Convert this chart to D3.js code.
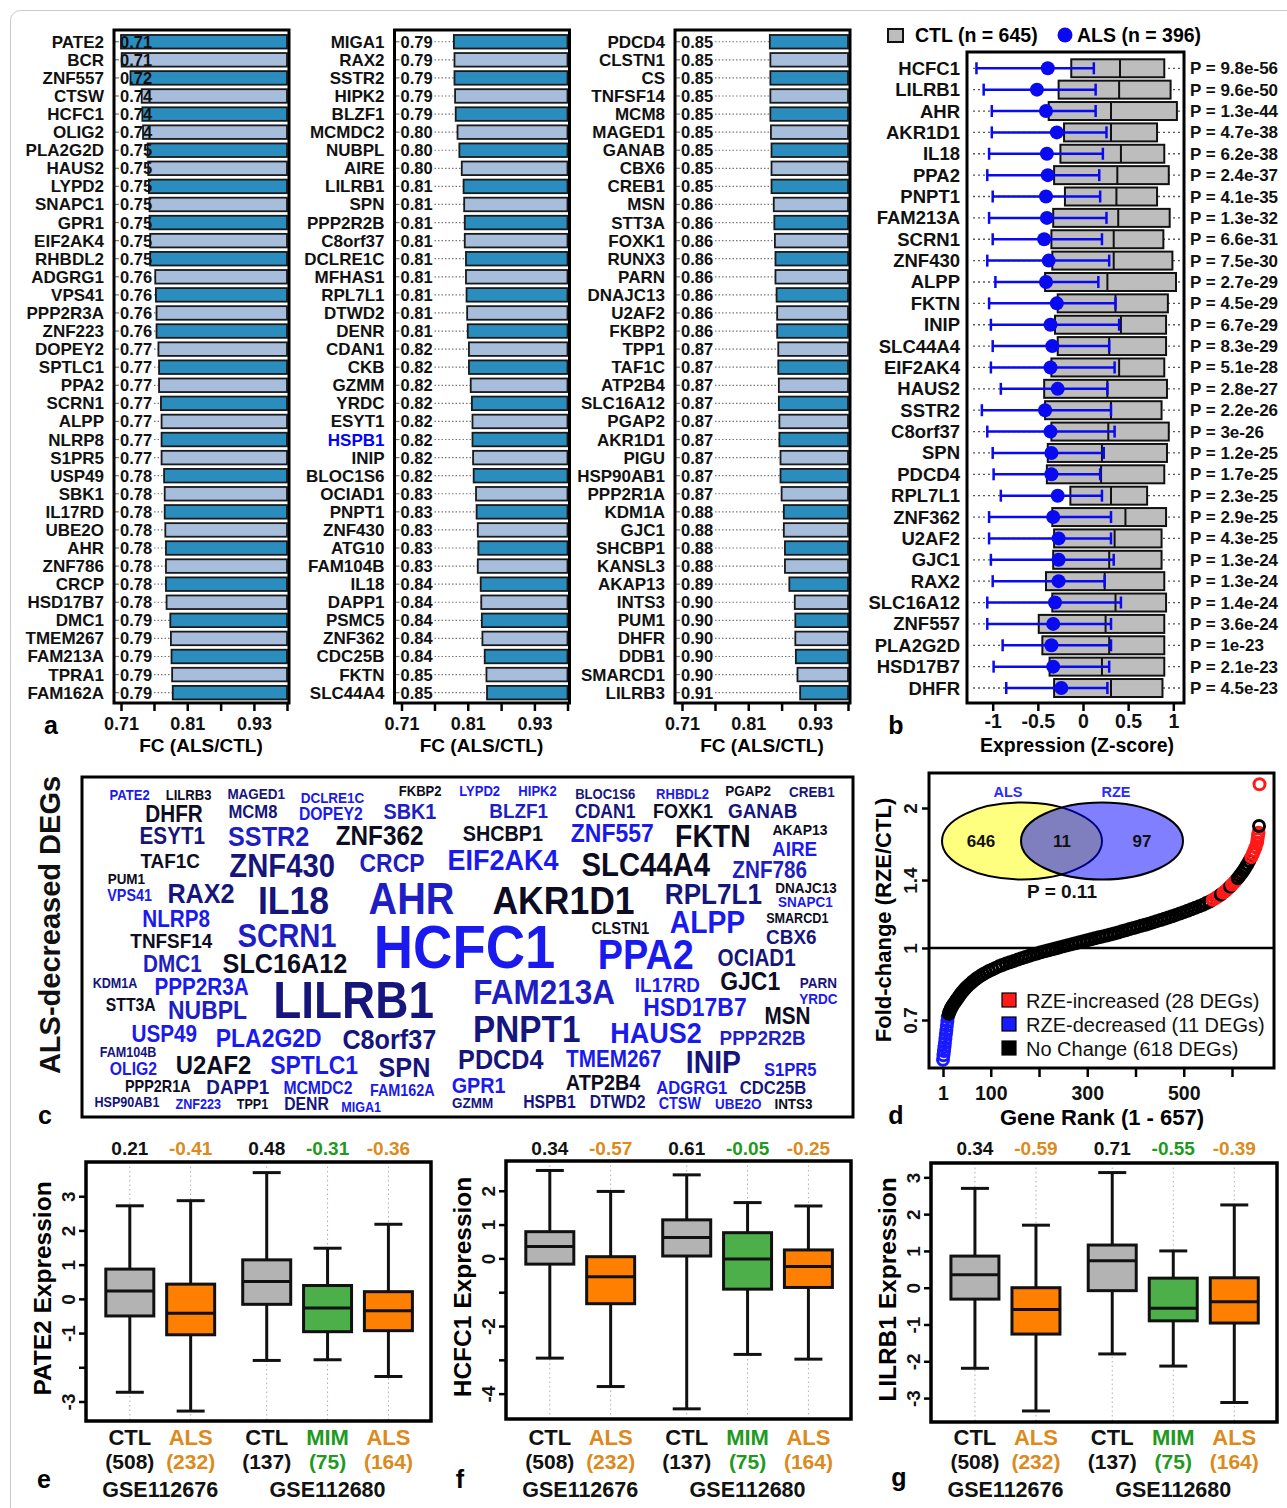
<!DOCTYPE html>
<html lang="en">
  <head>
    <meta charset="utf-8">
    <title>ALS-decreased DEGs</title>
    <script type="text/javascript" src="https://d3js.org/d3.v7.min.js"></script>
    <style type="text/css">
      body { margin: 0; background: #ffffff; }
      svg text { font-family: "Liberation Sans", Arial, Helvetica, sans-serif; font-weight: bold; }
    </style>
  </head>
  <body>
    <script type="text/javascript">

      var w = 1287;
      var h = 1508;

      // ---- panel a : fold change ALS/CTL, 111 genes in three columns of 37
      var geneA = ["PATE2","BCR","ZNF557","CTSW","HCFC1","OLIG2","PLA2G2D","HAUS2","LYPD2","SNAPC1","GPR1","EIF2AK4","RHBDL2","ADGRG1","VPS41","PPP2R3A","ZNF223","DOPEY2","SPTLC1","PPA2","SCRN1","ALPP","NLRP8","S1PR5","USP49","SBK1","IL17RD","UBE2O","AHR","ZNF786","CRCP","HSD17B7","DMC1","TMEM267","FAM213A","TPRA1","FAM162A",
        "MIGA1","RAX2","SSTR2","HIPK2","BLZF1","MCMDC2","NUBPL","AIRE","LILRB1","SPN","PPP2R2B","C8orf37","DCLRE1C","MFHAS1","RPL7L1","DTWD2","DENR","CDAN1","CKB","GZMM","YRDC","ESYT1","HSPB1","INIP","BLOC1S6","OCIAD1","PNPT1","ZNF430","ATG10","FAM104B","IL18","DAPP1","PSMC5","ZNF362","CDC25B","FKTN","SLC44A4",
        "PDCD4","CLSTN1","CS","TNFSF14","MCM8","MAGED1","GANAB","CBX6","CREB1","MSN","STT3A","FOXK1","RUNX3","PARN","DNAJC13","U2AF2","FKBP2","TPP1","TAF1C","ATP2B4","SLC16A12","PGAP2","AKR1D1","PIGU","HSP90AB1","PPP2R1A","KDM1A","GJC1","SHCBP1","KANSL3","AKAP13","INTS3","PUM1","DHFR","DDB1","SMARCD1","LILRB3"];
      var fcA = [0.710,0.711,0.724,0.741,0.742,0.743,0.750,0.751,0.752,0.753,0.753,0.754,0.754,0.762,0.763,0.764,0.764,0.767,0.768,0.768,0.771,0.772,0.772,0.772,0.776,0.777,0.777,0.778,0.779,0.779,0.779,0.780,0.786,0.787,0.788,0.789,0.790,
        0.791,0.792,0.792,0.793,0.794,0.797,0.800,0.804,0.807,0.808,0.809,0.809,0.811,0.811,0.812,0.813,0.814,0.816,0.816,0.819,0.821,0.822,0.822,0.823,0.824,0.828,0.829,0.831,0.832,0.831,0.836,0.837,0.838,0.839,0.843,0.846,0.847,
        0.851,0.852,0.852,0.852,0.852,0.853,0.854,0.854,0.854,0.858,0.859,0.860,0.861,0.861,0.863,0.864,0.864,0.866,0.866,0.867,0.867,0.868,0.868,0.870,0.870,0.872,0.876,0.876,0.878,0.878,0.886,0.896,0.897,0.897,0.898,0.901,0.906];
      var highlightA = ["HSPB1"];
      var tickA = [0.71, 0.76, 0.814, 0.872, 0.934, 1];
      var tickLabelA = ["0.71", "", "0.81", "", "0.93", ""];

      // ---- panel b : CTL quartiles and ALS summary (Z-score)
      var geneB = ["HCFC1","LILRB1","AHR","AKR1D1","IL18","PPA2","PNPT1","FAM213A","SCRN1","ZNF430","ALPP","FKTN","INIP","SLC44A4","EIF2AK4","HAUS2","SSTR2","C8orf37","SPN","PDCD4","RPL7L1","ZNF362","U2AF2","GJC1","RAX2","SLC16A12","ZNF557","PLA2G2D","HSD17B7","DHFR"];
      var ctlQ1 = [-0.13,-0.27,-0.38,-0.21,-0.25,-0.32,-0.20,-0.33,-0.35,-0.34,-0.42,-0.28,-0.31,-0.28,-0.35,-0.43,-0.42,-0.35,-0.39,-0.40,-0.14,-0.34,-0.32,-0.33,-0.41,-0.34,-0.49,-0.45,-0.37,-0.32];
      var ctlMed = [0.41,0.40,0.31,0.31,0.42,0.38,0.37,0.39,0.34,0.34,0.27,0.36,0.42,0.29,0.40,0.27,0.31,0.28,0.21,0.20,0.31,0.47,0.35,0.29,0.24,0.36,0.25,0.29,0.21,0.31];
      var ctlQ3 = [0.90,0.97,1.04,0.82,0.90,0.95,0.82,0.96,0.89,0.99,1.03,0.94,0.92,0.92,0.90,0.93,0.87,0.95,0.93,0.90,0.71,0.92,0.87,0.87,0.90,0.92,0.90,0.90,0.90,0.88];
      var alsMid = [-0.39,-0.51,-0.41,-0.29,-0.40,-0.39,-0.41,-0.40,-0.43,-0.38,-0.41,-0.29,-0.36,-0.34,-0.36,-0.28,-0.42,-0.36,-0.35,-0.35,-0.28,-0.33,-0.27,-0.27,-0.27,-0.31,-0.33,-0.35,-0.33,-0.24];
      var alsLo = [-1.18,-1.10,-1.01,-1.01,-1.04,-1.06,-1.00,-1.04,-1.00,-1.06,-0.97,-1.04,-1.02,-1.00,-1.02,-0.91,-1.12,-1.06,-1.00,-0.99,-0.91,-1.04,-1.04,-1.02,-1.00,-1.06,-1.06,-0.89,-0.99,-0.85];
      var alsHi = [0.12,0.14,0.14,0.26,0.22,0.18,0.19,0.26,0.21,0.29,0.17,0.36,0.40,0.29,0.35,0.27,0.31,0.35,0.23,0.19,0.21,0.31,0.31,0.34,0.24,0.42,0.31,0.31,0.29,0.27];
      var pB = [9.8e-56,9.6e-50,1.3e-44,4.7e-38,6.2e-38,2.4e-37,4.1e-35,1.3e-32,6.6e-31,7.5e-30,2.7e-29,4.5e-29,6.7e-29,8.3e-29,5.1e-28,2.8e-27,2.2e-26,3e-26,1.2e-25,1.7e-25,2.3e-25,2.9e-25,4.3e-25,1.3e-24,1.3e-24,1.4e-24,3.6e-24,1e-23,2.1e-23,4.5e-23];
      var tickB = [-1, -0.5, 0, 0.5, 1];
      var tickLabelB = ["-1", "-0.5", "0", "0.5", "1"];

      // ---- panel c : word cloud (weight ~ significance, shade 0 = black .. 3 = bright blue)
      var cloudWords = ["PATE2","LILRB3","MAGED1","DCLRE1C","FKBP2","LYPD2","HIPK2","BLOC1S6","RHBDL2","PGAP2","CREB1",
        "DHFR","MCM8","DOPEY2","SBK1","BLZF1","CDAN1","FOXK1","GANAB",
        "ESYT1","SSTR2","ZNF362","SHCBP1","ZNF557","FKTN","AKAP13","AIRE",
        "TAF1C","ZNF430","CRCP","EIF2AK4","SLC44A4","ZNF786",
        "PUM1","VPS41","RAX2","IL18","AHR","AKR1D1","RPL7L1","DNAJC13","SNAPC1",
        "NLRP8","TNFSF14","SCRN1","HCFC1","CLSTN1","ALPP","SMARCD1","CBX6",
        "DMC1","SLC16A12","PPA2","OCIAD1",
        "KDM1A","PPP2R3A","LILRB1","FAM213A","IL17RD","GJC1","PARN","YRDC",
        "STT3A","NUBPL","HSD17B7","MSN",
        "USP49","PLA2G2D","C8orf37","PNPT1","HAUS2","PPP2R2B",
        "FAM104B","OLIG2","U2AF2","SPTLC1","SPN","PDCD4","TMEM267","INIP","S1PR5",
        "PPP2R1A","DAPP1","MCMDC2","FAM162A","GPR1","ATP2B4","ADGRG1","CDC25B",
        "HSP90AB1","ZNF223","TPP1","DENR","MIGA1","GZMM","HSPB1","DTWD2","CTSW","UBE2O","INTS3"];
      var cloudWeight = [14.5,14.5,15,15,14.5,14.5,14.5,14.5,14.5,15,15,
        23,18.5,17.5,22,21,19.5,20,21,
        23,28,27,22,25.5,31.5,15.5,21,
        21,32.5,25.5,30,32.5,23,
        15,16,28,39.5,44,39.5,29,15,15,
        23,21,32.5,60.5,16.5,31.5,14,21,
        23,28,42,23,
        14,23,51,35,21,25.5,15,15,
        17.5,25.5,25.5,23,
        23,25.5,28,37,30,21,
        14,17.5,26.5,25.5,28,28,23,31.5,18.5,
        16,21,17.5,16,22,22,18.5,18.5,
        14,14,14,17.5,14,15,17.5,17.5,16,15,15];
      var cloudShade = [3,0,1,3,0,3,3,1,3,0,1,
        0,1,3,2,2,1,0,1,
        1,2,0,0,3,0,0,3,
        0,1,2,3,0,2,
        0,3,1,1,2,0,1,0,3,
        3,0,2,3,0,3,0,1,
        2,0,3,1,
        1,3,1,2,3,0,1,3,
        0,2,3,0,
        3,3,1,1,3,2,
        1,3,0,3,1,1,3,1,3,
        0,1,3,3,3,0,3,1,
        1,3,0,1,3,1,1,1,3,3,0];
      // layout of the cloud (word centres, in cloud units)
      var cloudPosX = [218,327,452,593,755,865,972,1097,1240,1361,1479,
        300,446,590,736,937,1097,1241,1388,
        297,475,680,908,1110,1296,1457,1447,
        293,500,703,908,1172,1401,
        212,218,350,521,739,1020,1297,1468,1467,
        304,295,509,837,1125,1286,1452,1441,
        297,505,1172,1377,
        191,351,632,984,1212,1365,1491,1491,
        220,362,1263,1434,
        282,475,698,952,1191,1388,
        215,225,373,559,726,904,1113,1297,1439,
        270,418,566,722,863,1093,1257,1407,
        213,345,445,545,646,852,994,1120,1235,1343,1445];
      var cloudPosY = [88,88,87,97,78,78,78,86,86,78,80,
        145,140,145,138,137,137,137,136,
        213,212,210,205,203,212,193,250,
        285,300,292,283,298,313,
        342,390,385,405,400,405,385,367,410,
        460,525,510,545,490,470,460,513,
        595,595,568,578,
        655,665,705,680,657,648,653,700,
        720,733,725,752,
        805,818,822,790,800,818,
        862,912,897,900,905,883,882,890,912,
        963,965,968,975,960,952,968,968,
        1010,1017,1017,1015,1025,1013,1010,1010,1015,1015,1015];

      // ---- panel d : sorted fold change RZE/CTL of the 657 ALS genes
      var rankD = [1,2,3,4,5,6,7,8,9,10,11,13,15,17,19,21,24,27,30,33,36,40,44,48,52,57,62,67,72,78,84,90,96,103,110,117,124,132,140,148,156,164,172,180,188,196,204,212,220,228,236,244,252,260,268,276,284,292,300,308,316,324,332,340,348,356,364,372,380,388,396,404,412,420,428,436,444,452,460,468,476,484,492,500,508,516,524,532,540,547,554,560,566,572,577,582,587,592,596,600,604,608,612,616,620,624,628,632,636,640,643,646,649,652,653,654,655,656,657];
      var fcD = [0.575,0.588,0.600,0.612,0.625,0.638,0.652,0.665,0.680,0.695,0.710,0.722,0.731,0.739,0.746,0.752,0.760,0.768,0.776,0.784,0.792,0.802,0.811,0.820,0.828,0.837,0.846,0.854,0.862,0.870,0.878,0.885,0.892,0.899,0.906,0.913,0.919,0.926,0.932,0.938,0.944,0.950,0.956,0.962,0.968,0.973,0.979,0.984,0.989,0.994,0.999,1.004,1.009,1.014,1.019,1.024,1.029,1.034,1.039,1.044,1.049,1.054,1.059,1.064,1.069,1.074,1.080,1.086,1.092,1.098,1.104,1.110,1.116,1.122,1.128,1.135,1.142,1.149,1.156,1.163,1.170,1.178,1.186,1.194,1.202,1.211,1.220,1.229,1.239,1.249,1.259,1.269,1.280,1.292,1.303,1.315,1.328,1.342,1.355,1.368,1.382,1.397,1.413,1.430,1.448,1.468,1.490,1.514,1.540,1.568,1.592,1.618,1.648,1.685,1.715,1.745,1.770,1.830,2.250];
      var decRanks = [1,2,3,4,5,6,7,8,9,10,11];
      var incRanks = [560,566,572,582,587,592,600,604,608,640,643,646,649,652,653,654,655,657];
      var legendD = ["RZE-increased (28 DEGs)", "RZE-decreased (11 DEGs)", "No Change (618 DEGs)"];
      var vennSets = ["ALS", "RZE"];
      var vennCounts = [646, 11, 97];
      var vennP = "P = 0.11";
      var tickDx = [1, 100, 200, 300, 400, 500, 600];
      var tickLabelDx = ["1", "100", "", "300", "", "500", ""];
      var tickDy = [0.7, 1, 1.4, 2];
      var tickLabelDy = ["0.7", "1", "1.4", "2"];

      // ---- panels e-g : expression box plots (whisker low, q1, median, q3, whisker high)
      var groups = ["CTL", "ALS", "CTL", "MIM", "ALS"];
      var groupN = [508, 232, 137, 75, 164];
      var datasets = ["GSE112676", "GSE112680"];
      var boxE = [[-2.73,-0.50,0.23,0.87,2.72],[-3.28,-1.05,-0.42,0.43,2.87],[-1.80,-0.16,0.51,1.14,3.69],[-1.78,-0.96,-0.27,0.39,1.48],[-2.27,-0.93,-0.35,0.21,2.18]];
      var meanE = [0.21,-0.41,0.48,-0.31,-0.36];
      var boxF = [[-2.95,-0.17,0.35,0.79,2.60],[-3.79,-1.34,-0.54,0.05,1.98],[-4.45,0.07,0.62,1.14,2.47],[-2.84,-0.91,-0.02,0.76,1.65],[-2.98,-0.86,-0.24,0.25,1.55]];
      var meanF = [0.34,-0.57,0.61,-0.05,-0.25];
      var boxG = [[-2.19,-0.31,0.35,0.86,2.70],[-3.35,-1.26,-0.59,0.00,1.70],[-1.80,-0.08,0.73,1.16,3.13],[-2.13,-0.90,-0.56,0.26,1.00],[-3.12,-0.96,-0.38,0.27,2.25]];
      var meanG = [0.34,-0.59,0.71,-0.55,-0.39];

      var svg = d3.select("body")
                  .append("svg")
                  .attr("width", w)
                  .attr("height", h);

      svg.append("rect")
         .attr("x", 10.5).attr("y", 10.5)
         .attr("width", w).attr("height", h)
         .attr("rx", 10)
         .attr("fill", "none")
         .attr("stroke", "#c8c8c8");

      function letter(t, x, y) {
        svg.append("text").attr("x", x).attr("y", y)
           .attr("text-anchor", "middle").attr("font-size", 25)
           .text(t);
      }

      // ================= panel a
      var aTop = 30, aBottom = 703;
      var aCols = [121, 401.5, 682];
      aCols.forEach(function(x0, c) {
        var genes = geneA.slice(c * 37, c * 37 + 37);
        var fcs = fcA.slice(c * 37, c * 37 + 37);
        var rows = genes.map(function(g, i) { return {gene: g, fc: fcs[i], i: i}; });
        var x = d3.scaleLog().domain([0.71, 1]).range([x0, x0 + 166]);
        var y = d3.scaleBand().domain(genes).range([32.7, 701.7]).paddingInner(0.25).paddingOuter(0.125);
        var g = svg.append("g");

        g.selectAll(".lead").data(rows).enter().append("line")
         .attr("x1", x0 + 33)
         .attr("x2", function(d) { return Math.max(x0 + 33, x(d.fc)); })
         .attr("y1", function(d) { return y(d.gene) + y.bandwidth() / 2; })
         .attr("y2", function(d) { return y(d.gene) + y.bandwidth() / 2; })
         .attr("stroke", "#777").attr("stroke-width", 1.2).attr("stroke-dasharray", "1.5,2");
        g.selectAll(".lead0").data(rows).enter().append("line")
         .attr("x1", x0 - 6).attr("x2", x0 - 2)
         .attr("y1", function(d) { return y(d.gene) + y.bandwidth() / 2; })
         .attr("y2", function(d) { return y(d.gene) + y.bandwidth() / 2; })
         .attr("stroke", "#777").attr("stroke-width", 1.2);

        g.selectAll(".bar").data(rows).enter().append("rect")
         .attr("x", function(d) { return x(d.fc); })
         .attr("width", function(d) { return x(1) - x(d.fc); })
         .attr("y", function(d) { return y(d.gene); })
         .attr("height", y.bandwidth())
         .attr("fill", function(d) { return d.i % 2 ? "#a6bddb" : "#2b8cbe"; })
         .attr("stroke", "#1a1a1a").attr("stroke-width", 1.8);

        g.selectAll(".val").data(rows).enter().append("text")
         .attr("x", x0 - 1)
         .attr("y", function(d) { return y(d.gene) + y.bandwidth() / 2 + 6; })
         .attr("font-size", 16.5).attr("fill", "#111")
         .text(function(d) { return d.fc.toFixed(2); });

        g.selectAll(".gene").data(rows).enter().append("text")
         .attr("x", x0 - 17)
         .attr("y", function(d) { return y(d.gene) + y.bandwidth() / 2 + 6; })
         .attr("text-anchor", "end").attr("font-size", 17)
         .attr("fill", function(d) { return highlightA.indexOf(d.gene) >= 0 ? "#0000ff" : "#111"; })
         .text(function(d) { return d.gene; });

        g.append("rect")
         .attr("x", x0 - 7).attr("y", aTop)
         .attr("width", 175).attr("height", aBottom - aTop)
         .attr("fill", "none").attr("stroke", "#000").attr("stroke-width", 3);

        var ax = g.append("g")
                  .attr("transform", "translate(0," + aBottom + ")")
                  .call(d3.axisBottom(x).tickValues(tickA)
                          .tickFormat(function(d, i) { return tickLabelA[i]; })
                          .tickSize(8).tickPadding(6))
                  .attr("font-size", 18);
        ax.select(".domain").remove();
        ax.selectAll("line").attr("stroke-width", 2.5);
        ax.selectAll("text").attr("fill", "#111");

        g.append("text")
         .attr("x", x0 + 80).attr("y", 752)
         .attr("text-anchor", "middle").attr("font-size", 19)
         .text("FC (ALS/CTL)");
      });
      letter("a", 51, 734);

      // ================= panel b
      var bLeft = 967, bRight = 1184, bTop = 52, bBottom = 703;
      var bx = d3.scaleLinear().domain([-1, 1]).range([992.7, 1173.3]);
      var by = d3.scaleBand().domain(geneB).range([57.6, 57.6 + 30 * 21.37]);
      var rowsB = geneB.map(function(g, i) {
        return {gene: g, q1: ctlQ1[i], med: ctlMed[i], q3: ctlQ3[i], mid: alsMid[i], lo: alsLo[i], hi: alsHi[i], p: pB[i]};
      });
      var cy = function(d) { return by(d.gene) + by.bandwidth() / 2; };
      var gb = svg.append("g");

      gb.selectAll(".dots").data(rowsB).enter().append("line")
        .attr("x1", bLeft + 6).attr("x2", bRight - 3)
        .attr("y1", cy).attr("y2", cy)
        .attr("stroke", "#555").attr("stroke-width", 1.3).attr("stroke-dasharray", "2,3");
      gb.selectAll(".ctl").data(rowsB).enter().append("rect")
        .attr("x", function(d) { return bx(d.q1); })
        .attr("width", function(d) { return bx(d.q3) - bx(d.q1); })
        .attr("y", function(d) { return cy(d) - 9; })
        .attr("height", 18)
        .attr("fill", "#bdbdbd").attr("stroke", "#111").attr("stroke-width", 2);
      gb.selectAll(".med").data(rowsB).enter().append("line")
        .attr("x1", function(d) { return bx(d.med); }).attr("x2", function(d) { return bx(d.med); })
        .attr("y1", function(d) { return cy(d) - 9; }).attr("y2", function(d) { return cy(d) + 9; })
        .attr("stroke", "#111").attr("stroke-width", 2);
      gb.selectAll(".err").data(rowsB).enter().append("line")
        .attr("x1", function(d) { return bx(d.lo); }).attr("x2", function(d) { return bx(d.hi); })
        .attr("y1", cy).attr("y2", cy)
        .attr("stroke", "#0a0af0").attr("stroke-width", 2.5);
      ["lo", "hi"].forEach(function(k) {
        gb.selectAll(".cap" + k).data(rowsB).enter().append("line")
          .attr("x1", function(d) { return bx(d[k]); }).attr("x2", function(d) { return bx(d[k]); })
          .attr("y1", function(d) { return cy(d) - 6; }).attr("y2", function(d) { return cy(d) + 6; })
          .attr("stroke", "#0a0af0").attr("stroke-width", 2.5);
      });
      gb.selectAll(".als").data(rowsB).enter().append("circle")
        .attr("cx", function(d) { return bx(d.mid); }).attr("cy", cy).attr("r", 7)
        .attr("fill", "#0a0af0");
      gb.selectAll(".gene").data(rowsB).enter().append("text")
        .attr("x", 960).attr("y", function(d) { return cy(d) + 6.5; })
        .attr("text-anchor", "end").attr("font-size", 18.5).attr("fill", "#111")
        .text(function(d) { return d.gene; });
      gb.selectAll(".pval").data(rowsB).enter().append("text")
        .attr("x", 1190).attr("y", function(d) { return cy(d) + 6; })
        .attr("font-size", 17).attr("fill", "#111")
        .text(function(d) { return "P = " + String(d.p); });

      gb.append("rect")
        .attr("x", bLeft).attr("y", bTop)
        .attr("width", bRight - bLeft).attr("height", bBottom - bTop)
        .attr("fill", "none").attr("stroke", "#000").attr("stroke-width", 3);

      var axb = gb.append("g")
                  .attr("transform", "translate(0," + bBottom + ")")
                  .call(d3.axisBottom(bx).tickValues(tickB)
                          .tickFormat(function(d, i) { return tickLabelB[i]; })
                          .tickSize(8).tickPadding(3))
                  .attr("font-size", 19.5);
      axb.select(".domain").remove();
      axb.selectAll("line").attr("stroke-width", 2.5);
      axb.selectAll("text").attr("fill", "#111");
      gb.append("text")
        .attr("x", 1077).attr("y", 752)
        .attr("text-anchor", "middle").attr("font-size", 19.5)
        .text("Expression (Z-score)");

      // legend
      gb.append("rect").attr("x", 888).attr("y", 29).attr("width", 15).attr("height", 13)
        .attr("fill", "#bdbdbd").attr("stroke", "#111").attr("stroke-width", 2);
      gb.append("text").attr("x", 915).attr("y", 42).attr("font-size", 19.5).text("CTL (n = 645)");
      gb.append("circle").attr("cx", 1065).attr("cy", 35).attr("r", 7.5).attr("fill", "#0a0af0");
      gb.append("text").attr("x", 1077).attr("y", 42).attr("font-size", 19.5).text("ALS (n = 396)");
      letter("b", 896, 734);

      // ================= panel c
      var cx = d3.scaleLinear().domain([130, 1555]).range([82, 853]);
      var cyc = d3.scaleLinear().domain([35, 1055]).range([776.7, 1116.7]);
      var sizeC = d3.scaleLinear().domain([14, 60.5]).range([14, 60.5]);
      var shadeC = d3.scaleOrdinal().domain([0, 1, 2, 3]).range(["#0c0c22", "#15157c", "#1e1ec4", "#1a1aee"]);
      var words = cloudWords.map(function(t, i) {
        return {text: t, weight: cloudWeight[i], shade: cloudShade[i], px: cloudPosX[i], py: cloudPosY[i]};
      });

      svg.append("rect")
         .attr("x", 82).attr("y", 777)
         .attr("width", 771).attr("height", 340)
         .attr("fill", "none").attr("stroke", "#000").attr("stroke-width", 3);
      svg.append("g").selectAll("text").data(words).enter().append("text")
         .attr("transform", function(d) {
           var fs = sizeC(d.weight);
           return "translate(" + cx(d.px) + "," + (cyc(d.py) + 0.36 * fs) + ") scale(0.9,1)";
         })
         .attr("text-anchor", "middle")
         .attr("font-size", function(d) { return sizeC(d.weight); })
         .attr("fill", function(d) { return shadeC(d.shade); })
         .text(function(d) { return d.text; });
      svg.append("text")
         .attr("transform", "translate(60,925) rotate(-90)")
         .attr("text-anchor", "middle").attr("font-size", 29).attr("fill", "#111")
         .text("ALS-decreased DEGs");
      letter("c", 45, 1124);

      // ================= panel d
      var dLeft = 929, dRight = 1274, dTop = 773, dBottom = 1068;
      var dx = d3.scaleLinear().domain([1, 600]).range([943, 1232]);
      var dy = d3.scaleLog().domain([0.7, 2]).range([1020, 808]);
      var statusColor = {dec: "#1a1aff", inc: "#ff1a1a", none: "#000000"};
      var pts = rankD.map(function(r, i) {
        var s = decRanks.indexOf(r) >= 0 ? "dec" : (incRanks.indexOf(r) >= 0 ? "inc" : "none");
        return {rank: r, fc: fcD[i], status: s};
      });
      var gd = svg.append("g");

      gd.append("line")
        .attr("x1", dLeft).attr("x2", dRight)
        .attr("y1", dy(1)).attr("y2", dy(1))
        .attr("stroke", "#000").attr("stroke-width", 2.5);

      // venn inset
      var venn = gd.append("g");
      venn.append("ellipse").attr("cx", 1022).attr("cy", 841).attr("rx", 80).attr("ry", 38.5)
          .attr("fill", "rgba(255,255,0,0.5)").attr("stroke", "#000").attr("stroke-width", 2);
      venn.append("ellipse").attr("cx", 1102).attr("cy", 841).attr("rx", 81).attr("ry", 38.5)
          .attr("fill", "rgba(0,0,255,0.5)").attr("stroke", "#000").attr("stroke-width", 2);
      venn.selectAll(".vl").data(vennSets).enter().append("text")
          .attr("x", function(d, i) { return [1008, 1116][i]; }).attr("y", 797)
          .attr("text-anchor", "middle").attr("font-size", 14.5).attr("fill", "#2a2aff")
          .text(function(d) { return d; });
      venn.selectAll(".vn").data(vennCounts).enter().append("text")
          .attr("x", function(d, i) { return [981, 1062, 1142][i]; }).attr("y", 847)
          .attr("text-anchor", "middle").attr("font-size", 17).attr("fill", "#111")
          .text(function(d) { return d; });
      venn.append("text").attr("x", 1062).attr("y", 898)
          .attr("text-anchor", "middle").attr("font-size", 19).attr("fill", "#111")
          .text(vennP);

      gd.selectAll(".pt").data(pts).enter().append("circle")
        .attr("cx", function(d) { return dx(d.rank); })
        .attr("cy", function(d) { return dy(d.fc); })
        .attr("r", 5.5)
        .attr("fill", "none")
        .attr("stroke", function(d) { return statusColor[d.status]; })
        .attr("stroke-width", 3);

      // legend
      var legKeys = ["inc", "dec", "none"];
      var leg = gd.selectAll(".leg").data(legendD).enter().append("g")
                  .attr("transform", function(d, i) { return "translate(1002," + (1000 + i * 24) + ")"; });
      leg.append("rect").attr("x", 0).attr("y", -7).attr("width", 14).attr("height", 14)
         .attr("fill", function(d, i) { return statusColor[legKeys[i]]; })
         .attr("stroke", "#000").attr("stroke-width", 1.2);
      leg.append("text").attr("x", 24).attr("y", 7.5)
         .attr("font-size", 20).style("font-weight", "normal").attr("fill", "#111")
         .text(function(d) { return d; });

      gd.append("rect")
        .attr("x", dLeft).attr("y", dTop)
        .attr("width", dRight - dLeft).attr("height", dBottom - dTop)
        .attr("fill", "none").attr("stroke", "#000").attr("stroke-width", 3);

      var axdx = gd.append("g")
                   .attr("transform", "translate(0," + dBottom + ")")
                   .call(d3.axisBottom(dx).tickValues(tickDx)
                           .tickFormat(function(d, i) { return tickLabelDx[i]; })
                           .tickSize(9).tickPadding(9))
                   .attr("font-size", 19.5);
      axdx.select(".domain").remove();
      axdx.selectAll("line").attr("stroke-width", 2.5);
      axdx.selectAll("text").attr("fill", "#111");

      var axdy = gd.append("g")
                   .attr("transform", "translate(" + dLeft + ",0)")
                   .call(d3.axisLeft(dy).tickValues(tickDy)
                           .tickFormat(function(d, i) { return tickLabelDy[i]; })
                           .tickSize(7))
                   .attr("font-size", 19);
      axdy.select(".domain").remove();
      axdy.selectAll("line").attr("stroke-width", 2.5);
      axdy.selectAll("text")
          .attr("x", 0).attr("dy", 0)
          .attr("text-anchor", "middle")
          .attr("transform", "translate(-12,0) rotate(-90)")
          .attr("fill", "#111");

      gd.append("text")
        .attr("transform", "translate(891,920) rotate(-90)")
        .attr("text-anchor", "middle").attr("font-size", 22)
        .text("Fold-change (RZE/CTL)");
      gd.append("text")
        .attr("x", 1102).attr("y", 1125)
        .attr("text-anchor", "middle").attr("font-size", 22)
        .text("Gene Rank (1 - 657)");
      letter("d", 896, 1124);

      // ================= panels e, f, g
      var slots = [0, 1, 2.25, 3.25, 4.25];
      var fillGroup = {CTL: "#b3b3b3", ALS: "#ff7f00", MIM: "#4daf4a"};
      var textGroup = {CTL: "#111111", ALS: "#dc8a1c", MIM: "#1f9a1f"};

      function boxPanel(p) {
        var x = d3.scaleLinear().domain([-0.72, 4.95]).range([p.left, p.right]);
        var y = d3.scaleLinear().domain(p.yDomain).range([p.bottom, p.top]);
        var rows = p.stats.map(function(s, i) {
          return {lo: s[0], q1: s[1], med: s[2], q3: s[3], hi: s[4], grp: groups[i], n: groupN[i], mean: p.means[i], pos: slots[i]};
        });
        var g = svg.append("g");
        var bw = 48, cw = 28;

        g.selectAll(".guide").data(rows).enter().append("line")
         .attr("x1", function(d) { return x(d.pos); }).attr("x2", function(d) { return x(d.pos); })
         .attr("y1", p.top).attr("y2", p.bottom)
         .attr("stroke", "#b0b0b0").attr("stroke-width", 1).attr("stroke-dasharray", "1.5,3");
        g.selectAll(".wh").data(rows).enter().append("line")
         .attr("x1", function(d) { return x(d.pos); }).attr("x2", function(d) { return x(d.pos); })
         .attr("y1", function(d) { return y(d.lo); }).attr("y2", function(d) { return y(d.hi); })
         .attr("stroke", "#111").attr("stroke-width", 3);
        ["lo", "hi"].forEach(function(k) {
          g.selectAll(".cap" + k).data(rows).enter().append("line")
           .attr("x1", function(d) { return x(d.pos) - cw / 2; }).attr("x2", function(d) { return x(d.pos) + cw / 2; })
           .attr("y1", function(d) { return y(d[k]); }).attr("y2", function(d) { return y(d[k]); })
           .attr("stroke", "#111").attr("stroke-width", 3);
        });
        g.selectAll(".bx").data(rows).enter().append("rect")
         .attr("x", function(d) { return x(d.pos) - bw / 2; })
         .attr("width", bw)
         .attr("y", function(d) { return y(d.q3); })
         .attr("height", function(d) { return y(d.q1) - y(d.q3); })
         .attr("fill", function(d) { return fillGroup[d.grp]; })
         .attr("stroke", "#111").attr("stroke-width", 3);
        g.selectAll(".md").data(rows).enter().append("line")
         .attr("x1", function(d) { return x(d.pos) - bw / 2; }).attr("x2", function(d) { return x(d.pos) + bw / 2; })
         .attr("y1", function(d) { return y(d.med); }).attr("y2", function(d) { return y(d.med); })
         .attr("stroke", "#111").attr("stroke-width", 3);

        g.append("rect")
         .attr("x", p.left).attr("y", p.top)
         .attr("width", p.right - p.left).attr("height", p.bottom - p.top)
         .attr("fill", "none").attr("stroke", "#000").attr("stroke-width", 3.5);

        var ay = g.append("g")
                  .attr("transform", "translate(" + p.left + ",0)")
                  .call(d3.axisLeft(y).tickValues(p.ticks)
                          .tickFormat(function(d, i) { return p.tickLabels[i]; })
                          .tickSize(7))
                  .attr("font-size", 19);
        ay.select(".domain").remove();
        ay.selectAll("line").attr("stroke-width", 2.5);
        ay.selectAll("text")
          .attr("x", 0).attr("dy", 0)
          .attr("text-anchor", "middle")
          .attr("transform", "translate(-11,0) rotate(-90)")
          .attr("fill", "#111");

        g.append("text")
         .attr("transform", "translate(" + (p.left - 35) + "," + ((p.top + p.bottom) / 2 - 3) + ") rotate(-90)")
         .attr("text-anchor", "middle").attr("font-size", 24.5)
         .text(p.title);

        g.selectAll(".mean").data(rows).enter().append("text")
         .attr("x", function(d) { return x(d.pos); }).attr("y", 1155)
         .attr("text-anchor", "middle").attr("font-size", 19)
         .attr("fill", function(d) { return textGroup[d.grp]; })
         .text(function(d) { return d.mean.toFixed(2); });
        g.selectAll(".grp").data(rows).enter().append("text")
         .attr("x", function(d) { return x(d.pos); }).attr("y", 1445)
         .attr("text-anchor", "middle").attr("font-size", 22)
         .attr("fill", function(d) { return textGroup[d.grp]; })
         .text(function(d) { return d.grp; });
        g.selectAll(".cnt").data(rows).enter().append("text")
         .attr("x", function(d) { return x(d.pos); }).attr("y", 1469)
         .attr("text-anchor", "middle").attr("font-size", 21)
         .attr("fill", function(d) { return textGroup[d.grp]; })
         .text(function(d) { return "(" + d.n + ")"; });
        g.selectAll(".ds").data(datasets).enter().append("text")
         .attr("x", function(d, i) { return x(i === 0 ? 0.5 : 3.25); }).attr("y", 1497)
         .attr("text-anchor", "middle").attr("font-size", 21.5).attr("fill", "#111")
         .text(function(d) { return d; });
      }

      boxPanel({left: 86, right: 431, top: 1162, bottom: 1421, yDomain: [-3.57, 4.0],
                stats: boxE, means: meanE, title: "PATE2 Expression",
                ticks: [-3, -2, -1, 0, 1, 2, 3], tickLabels: ["-3", "", "-1", "0", "1", "2", "3"]});
      boxPanel({left: 506, right: 851, top: 1161, bottom: 1419, yDomain: [-4.75, 2.88],
                stats: boxF, means: meanF, title: "HCFC1 Expression",
                ticks: [-4, -3, -2, -1, 0, 1, 2], tickLabels: ["-4", "", "-2", "", "0", "1", "2"]});
      boxPanel({left: 931, right: 1277, top: 1163, bottom: 1422, yDomain: [-3.65, 3.39],
                stats: boxG, means: meanG, title: "LILRB1 Expression",
                ticks: [-3, -2, -1, 0, 1, 2, 3], tickLabels: ["-3", "-2", "-1", "0", "1", "2", "3"]});
      letter("e", 44, 1488);
      letter("f", 460, 1488);
      letter("g", 899, 1486);

    </script>
  </body>
</html>
